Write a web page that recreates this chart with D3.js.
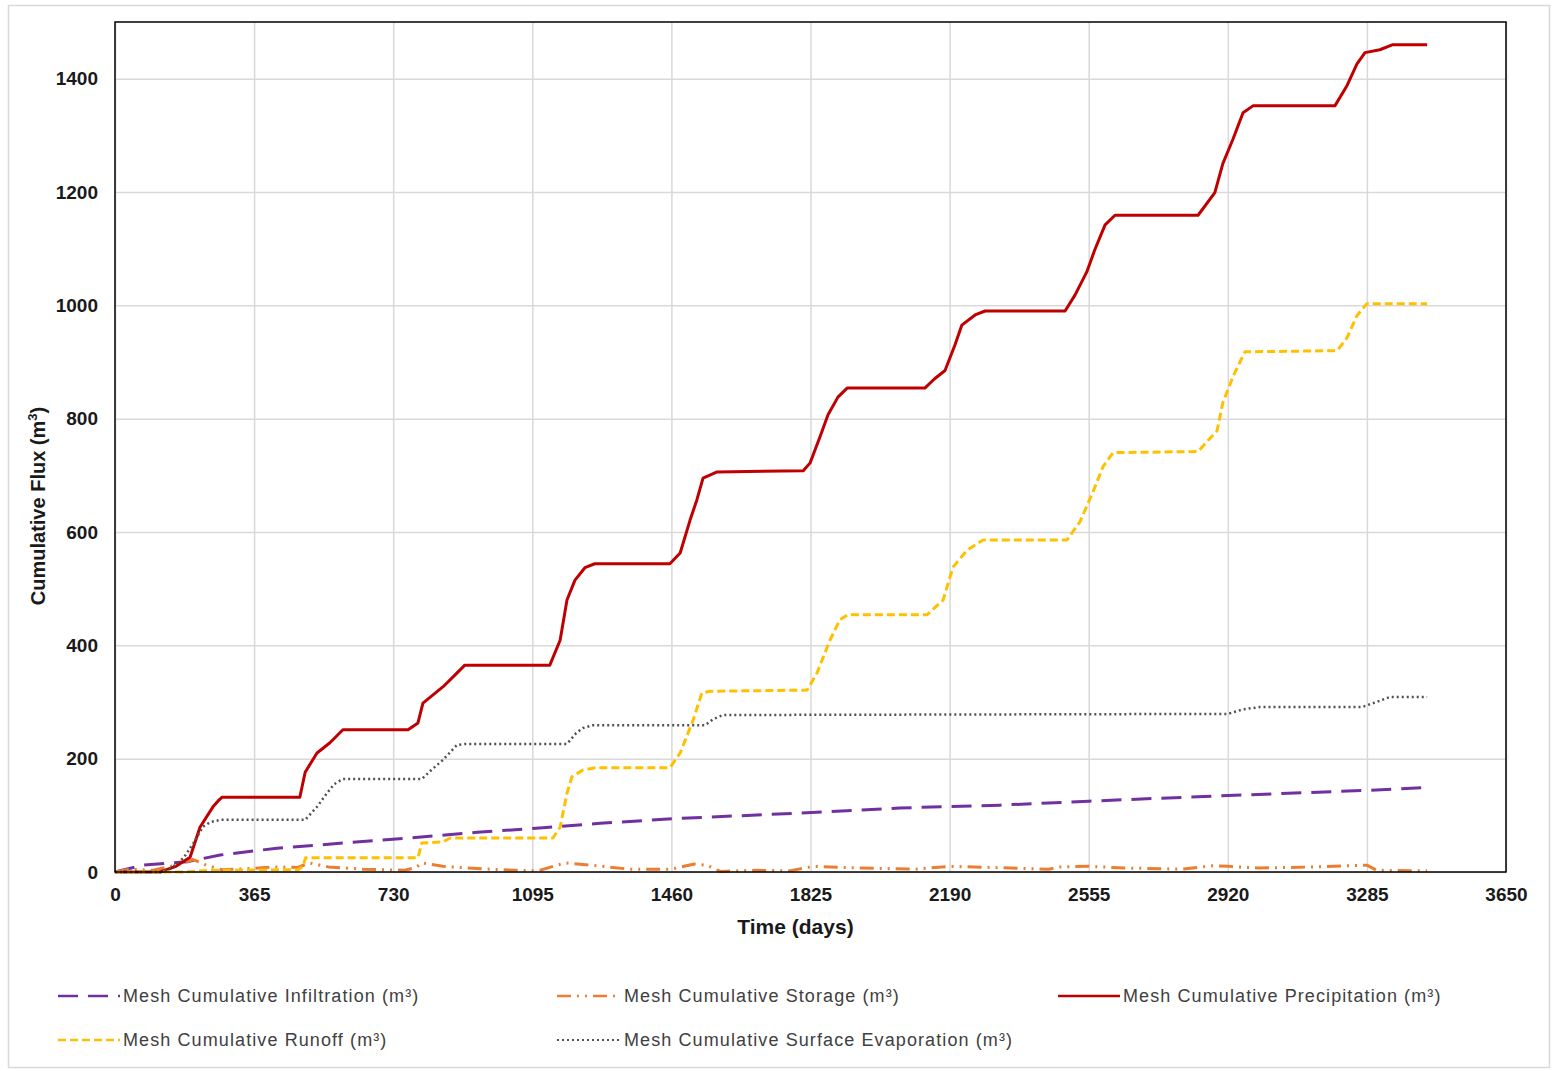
<!DOCTYPE html>
<html>
<head>
<meta charset="utf-8">
<script src="https://cdnjs.cloudflare.com/ajax/libs/d3/7.8.5/d3.min.js"></script>
<style>
  body { margin: 0; background: #fff; }
  svg { display: block; font-family: "Liberation Sans", Arial, sans-serif; }
</style>
</head>
<body>
<div id="chart"></div>
<script>
// ---- data: [day, cumulative m3] ----
const xTicks = [0, 365, 730, 1095, 1460, 1825, 2190, 2555, 2920, 3285, 3650]
const yTicks = [0, 200, 400, 600, 800, 1000, 1200, 1400]

const infiltration = [[0,0],[73,12],[189,18],[276,30],[425,42],[598,51],[774,60],[950,70],[1123,78],
  [1273,86],[1464,94],[1797,104],[2060,113],[2322,118],[2555,125],[2920,135],[3285,144],[3443,149]]

const storage = [[0,0],[40,5],[100,3],[160,12],[205,22],[240,12],[280,4],[350,6],[420,9],[480,8],
  [510,16],[560,9],[650,5],[760,3],[790,8],[805,16],[860,10],[950,6],[1050,3],[1110,2],[1150,10],
  [1180,16],[1250,12],[1350,5],[1460,5],[1520,14],[1553,12],[1588,1],[1680,3],[1770,2],[1832,10],
  [1950,7],[2100,5],[2190,10],[2300,8],[2450,5],[2480,9],[2555,10],[2650,7],[2800,5],[2881,11],
  [2920,10],[3000,7],[3153,9],[3285,12],[3311,3],[3443,2]]

const precipitation = [[0,0],[118,0],[160,10],[197,26],[223,79],[257,115],[270,125],[281,132],
  [485,132],[499,176],[530,210],[564,228],[598,251],[769,251],[795,263],[808,298],[861,327],
  [897,351],[918,365],[1141,365],[1168,409],[1186,480],[1207,515],[1233,537],[1259,544],
  [1456,544],[1483,563],[1509,621],[1527,657],[1543,695],[1580,706],[1806,708],[1824,722],
  [1850,768],[1871,807],[1897,838],[1921,854],[2125,854],[2150,870],[2178,885],[2204,930],
  [2222,965],[2257,983],[2283,990],[2493,990],[2519,1018],[2550,1059],[2571,1098],[2598,1142],
  [2624,1159],[2842,1159],[2886,1199],[2907,1250],[2934,1294],[2960,1340],[2986,1352],
  [3201,1352],[3233,1388],[3259,1426],[3280,1446],[3319,1451],[3353,1460],[3443,1460]]

const runoff = [[0,0],[180,0],[250,3],[480,4],[493,10],[500,25],[795,25],[805,51],[860,53],
  [880,60],[1149,60],[1168,79],[1186,139],[1199,168],[1228,180],[1260,184],[1456,184],[1483,210],
  [1517,268],[1540,316],[1561,319],[1816,321],[1842,351],[1876,409],[1902,445],[1923,454],
  [2131,454],[2173,480],[2199,538],[2236,568],[2278,586],[2498,586],[2532,618],[2567,672],
  [2593,716],[2619,740],[2842,742],[2892,779],[2907,828],[2934,875],[2965,918],[3207,920],
  [3233,943],[3259,982],[3285,1003],[3443,1003]]

const evaporation = [[0,0],[125,0],[150,8],[180,25],[205,50],[231,80],[250,88],[276,92],
  [499,92],[530,115],[556,139],[575,155],[598,164],[805,164],[830,180],[861,198],[897,224],
  [920,226],[1186,226],[1210,245],[1228,254],[1254,259],[1548,259],[1570,270],[1595,277],
  [2920,279],[2960,287],[3004,291],[3272,291],[3310,300],[3346,309],[3443,309]]

// series drawn in this order (legend order too)
const series = [
  {name: "Mesh Cumulative Infiltration (m\u00b3)", data: infiltration, color: "#7030a0", width: 3, dash: "20,10"},
  {name: "Mesh Cumulative Storage (m\u00b3)", data: storage, color: "#ed7d31", width: 3, dash: "14,6,2,6,2,6"},
  {name: "Mesh Cumulative Precipitation (m\u00b3)", data: precipitation, color: "#c00000", width: 3, dash: null},
  {name: "Mesh Cumulative Runoff (m\u00b3)", data: runoff, color: "#ffc000", width: 3, dash: "8,4"},
  {name: "Mesh Cumulative Surface Evaporation (m\u00b3)", data: evaporation, color: "#505050", width: 2.5, dash: "2,3"}
]

const W = 1554, H = 1071
const margin = {top: 22, right: 48, bottom: 199, left: 115}
const width = W - margin.left - margin.right,
      height = H - margin.top - margin.bottom

const svg = d3.select("#chart").append("svg")
  .attr("width", W).attr("height", H)

// outer chart frame
svg.append("rect")
  .attr("x", 8.5).attr("y", 5.5).attr("width", 1541).attr("height", 1062)
  .attr("fill", "#fff").attr("stroke", "#d9d9d9").attr("stroke-width", 1.5)

const g = svg.append("g").attr("transform", `translate(${margin.left},${margin.top})`)

const x = d3.scaleLinear().domain([0, 3650]).range([0, width])
const y = d3.scaleLinear().domain([0, 1500]).range([height, 0])

// gridlines
g.append("g")
  .attr("transform", `translate(0,${height})`)
  .call(d3.axisBottom(x).tickValues(xTicks).tickSize(-height).tickFormat(""))
  .call(a => a.select(".domain").remove())
  .selectAll("line").attr("stroke", "#d9d9d9").attr("stroke-width", 1.5)

g.append("g")
  .call(d3.axisLeft(y).tickValues(yTicks).tickSize(-width).tickFormat(""))
  .call(a => a.select(".domain").remove())
  .selectAll("line").attr("stroke", "#d9d9d9").attr("stroke-width", 1.5)

// tick labels
g.append("g")
  .attr("transform", `translate(0,${height})`)
  .call(d3.axisBottom(x).tickValues(xTicks).tickSize(0).tickPadding(16).tickFormat(d3.format("d")))
  .call(a => a.select(".domain").remove())
  .selectAll("text")
    .style("font-size", "19px").style("font-weight", "bold").attr("fill", "#1a1a1a")
    .style("font-family", "'Liberation Sans', Arial, sans-serif")

g.append("g")
  .call(d3.axisLeft(y).tickValues(yTicks).tickSize(0).tickPadding(17).tickFormat(d3.format("d")))
  .call(a => a.select(".domain").remove())
  .selectAll("text")
    .style("font-size", "19px").style("font-weight", "bold").attr("fill", "#1a1a1a")
    .style("font-family", "'Liberation Sans', Arial, sans-serif")

// lines
const line = d3.line().x(d => x(d[0])).y(d => y(d[1]))

g.selectAll(".series")
  .data(series)
  .join("path")
    .attr("class", "series")
    .attr("d", d => line(d.data))
    .attr("fill", "none")
    .attr("stroke", d => d.color)
    .attr("stroke-width", d => d.width)
    .attr("stroke-dasharray", d => d.dash)
    .attr("stroke-linejoin", "round")

// plot frame
g.append("rect")
  .attr("width", width).attr("height", height)
  .attr("fill", "none").attr("stroke", "#000").attr("stroke-width", 1.5)

// axis titles
svg.append("text")
  .attr("x", margin.left + width / 2 - 15).attr("y", 934)
  .attr("text-anchor", "middle")
  .style("font-size", "21px").style("font-weight", "bold").attr("fill", "#1a1a1a")
  .text("Time (days)")

const yt = svg.append("text")
  .attr("transform", "translate(45,506) rotate(-90)")
  .attr("text-anchor", "middle")
  .style("font-size", "20px").style("font-weight", "bold").attr("fill", "#1a1a1a")
yt.append("tspan").text("Cumulative Flux (m")
yt.append("tspan").attr("dy", -8).style("font-size", "13px").text("3")
yt.append("tspan").attr("dy", 8).text(")")

// legend
const legendPos = [
  {x: 58, y: 996}, {x: 557, y: 996}, {x: 1058, y: 996},
  {x: 58, y: 1040}, {x: 557, y: 1040}
]

const leg = svg.selectAll(".legend")
  .data(series)
  .join("g")
    .attr("class", "legend")
    .attr("transform", (d, i) => `translate(${legendPos[i].x},${legendPos[i].y})`)

leg.append("line")
  .attr("x1", 0).attr("x2", 62).attr("y1", 0).attr("y2", 0)
  .attr("stroke", d => d.color)
  .attr("stroke-width", d => d.width === 3 ? 2.5 : 2)
  .attr("stroke-dasharray", d => d.dash)

leg.append("text")
  .attr("x", (d, i) => i === 1 || i === 4 ? 67 : 65).attr("y", 6)
  .style("font-size", "18px").style("letter-spacing", "1.1px")
  .attr("fill", "#404040")
  .text(d => d.name)
</script>
</body>
</html>
